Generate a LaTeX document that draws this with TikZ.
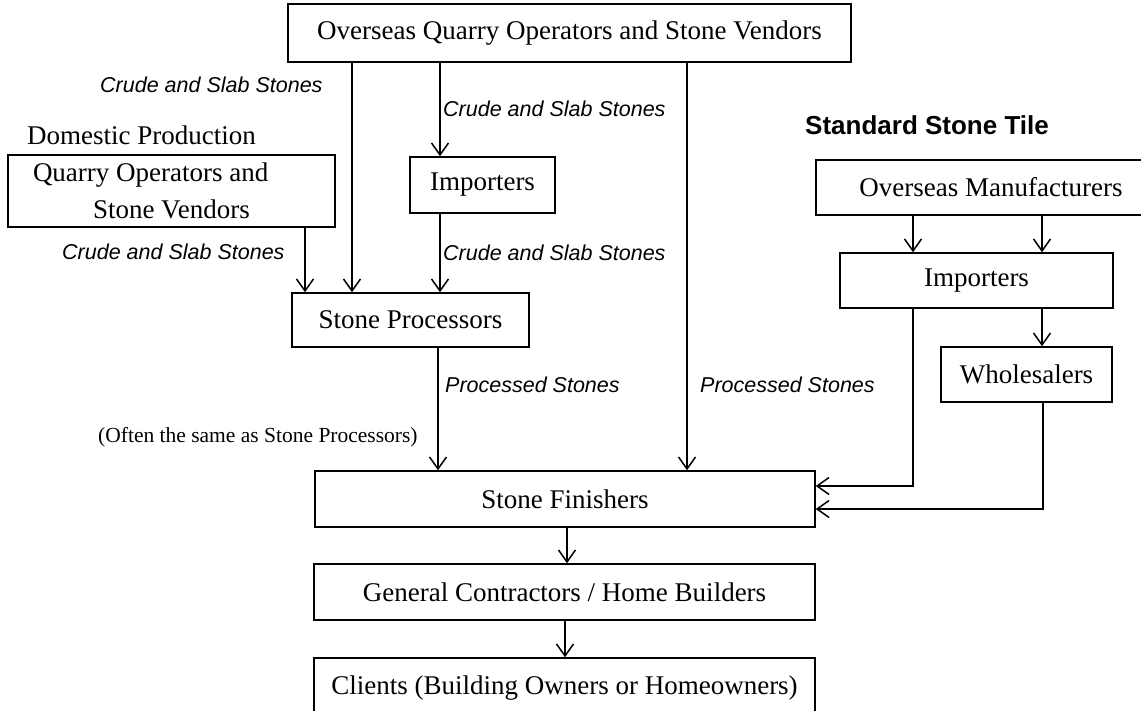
\documentclass[tikz,border=0pt]{standalone}
\usepackage{fontspec}
\setmainfont{Liberation Serif}
\setsansfont{Liberation Sans}
\usetikzlibrary{arrows.meta,positioning}

\begin{document}
\begin{tikzpicture}[
  x=1pt, y=-1pt,
  every node/.style={font=\fontsize{27}{32}\selectfont},
  box/.style={draw, line width=1.5pt, inner sep=0pt, minimum height=55pt, align=center},
  flow/.style={font=\sffamily\itshape\fontsize{21.5}{26}\selectfont, inner sep=0pt},
  link/.style={line width=1.5pt, -{Straight Barb[length=12pt,width=17pt,line width=1.5pt]}}
]
\useasboundingbox (0,0) rectangle (1141,710);

% stone supply
\node[box, minimum width=563pt, minimum height=58pt] (top) at (569.5,33) {Overseas Quarry Operators and Stone Vendors};
\node[inner sep=0pt, anchor=west] (dom) at (27,135) {Domestic Production};
\node[box, text width=277pt, inner xsep=25pt, minimum height=72pt, align=flush left,
      font=\fontsize{27}{37}\selectfont] (quarry) at (171.5,191) {Quarry Operators and\\\hspace*{60pt}Stone Vendors};
\node[box, minimum width=145pt, minimum height=56pt] (impL) at (482.5,185) {Importers};
\node[box, minimum width=237pt, minimum height=54pt] (proc) at (410.5,320) {Stone Processors};

% standard tile
\node[inner sep=0pt, anchor=west, font=\sffamily\bfseries\fontsize{26}{30}\selectfont] (tile) at (805,125) {Standard Stone Tile};
\node[box, minimum width=350pt] (om) at (991,187.5) {Overseas Manufacturers};
\node[box, minimum width=273pt] (impR) at (976.5,280.5) {Importers};
\node[box, minimum width=171pt] (whl) at (1026.5,374.5) {Wholesalers};

% downstream
\node[box, minimum width=500pt, minimum height=56pt] (fin) at (565,499) {Stone Finishers};
\node[box, minimum width=501pt, minimum height=56pt] (gc) at (564.5,592) {General Contractors / Home Builders};
\node[box, minimum width=501pt, minimum height=60pt] (cli) at (564.5,688) {Clients (Building Owners or Homeowners)};

% flow labels
\node[flow, anchor=west] (lblA) at (100,85) {Crude and Slab Stones};
\node[flow, anchor=west] (lblB) at (443,109) {Crude and Slab Stones};
\node[flow, anchor=west] (lblC) at (62,252) {Crude and Slab Stones};
\node[flow, anchor=west] (lblD) at (443,253) {Crude and Slab Stones};
\node[flow, anchor=west] (lblE) at (445,385) {Processed Stones};
\node[flow, anchor=west] (lblF) at (700,385) {Processed Stones};
\node[inner sep=0pt, anchor=west, font=\fontsize{21.5}{26}\selectfont] (often) at (98,437) {(Often the same as Stone Processors)};

\draw[link] (top.south -| 352,0) -- (proc.north -| 352,0);
\draw[link] (top.south -| 440,0) -- (impL.north -| 440,0);
\draw[link] (quarry.south -| 305,0) -- (proc.north -| 305,0);
\draw[link] (impL.south -| 440,0) -- (proc.north -| 440,0);
\draw[link] (top.south -| 687,0) -- (fin.north -| 687,0);
\draw[link] (proc.south -| 438,0) -- (fin.north -| 438,0);
\draw[link] (om.south -| 913,0) -- (impR.north -| 913,0);
\draw[link] (om.south -| 1042,0) -- (impR.north -| 1042,0);
\draw[link] (impR.south -| 1042,0) -- (whl.north -| 1042,0);
\draw[link] (impR.south -| 913,0) |- (fin.east |- 0,486);
\draw[link] (whl.south -| 1043,0) |- (fin.east |- 0,509);
\draw[link] (fin.south -| 567,0) -- (gc.north -| 567,0);
\draw[link] (gc.south -| 565,0) -- (cli.north -| 565,0);
\end{tikzpicture}
\end{document}
